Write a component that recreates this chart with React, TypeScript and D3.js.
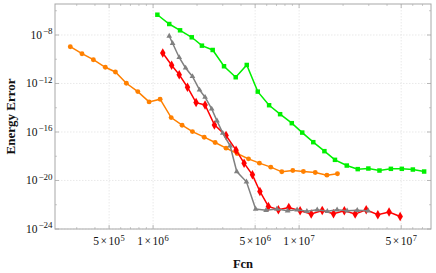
import React from "react";
import * as d3 from "d3";

const W = 436, H = 273;
const M = { left: 55, right: 431, top: 4, bottom: 229 };

// series: [Fcn, Energy Error]
const orangeFcn = [2.71e5, 3.26e5, 3.9e5, 4.71e5, 5.52e5, 6.56e5, 7.86e5, 9.39e5, 1.117e6, 1.33e6, 1.58e6, 1.86e6, 2.24e6, 2.66e6, 3.16e6, 3.76e6, 4.5e6, 5.35e6, 6.4e6, 7.61e6, 9.05e6, 1.07e7, 1.29e7, 1.55e7, 1.83e7];
const orangeErr = [1.09e-9, 2.88e-10, 9.23e-11, 2.18e-11, 8.95e-12, 1.05e-12, 2.14e-13, 3.03e-14, 5.05e-14, 1.54e-15, 3.65e-16, 1.08e-16, 3.74e-17, 1.35e-17, 4.65e-18, 1.67e-18, 6.11e-19, 2.7e-19, 1.26e-19, 5.19e-20, 6.64e-20, 5.5e-20, 4.54e-20, 2.77e-20, 3.55e-20];

const greenFcn = [1.07e6, 1.29e6, 1.53e6, 1.84e6, 2.16e6, 2.56e6, 3.06e6, 3.68e6, 4.38e6, 5.21e6, 6.23e6, 7.41e6, 8.91e6, 1.05e7, 1.25e7, 1.49e7, 1.76e7, 2.12e7, 2.52e7, 2.98e7, 3.55e7, 4.25e7, 5.05e7, 6.01e7, 7.18e7];
const greenErr = [4.7e-7, 8.05e-8, 2.44e-8, 6.47e-9, 1.32e-9, 5.81e-10, 2.64e-11, 3.28e-12, 3.38e-11, 2.14e-13, 1.62e-14, 2.94e-15, 5.33e-16, 8.95e-17, 1.45e-17, 2.63e-18, 5.06e-19, 1.71e-19, 8.67e-20, 9.71e-20, 6.64e-20, 9.16e-20, 9.16e-20, 8.04e-20, 5.5e-20];

const redFcn = [1.165e6, 1.34e6, 1.51e6, 1.72e6, 1.97e6, 2.27e6, 2.63e6, 3.16e6, 3.7e6, 4.2e6, 4.79e6, 5.39e6, 6.16e6, 7.21e6, 8.5e6, 1.016e7, 1.21e7, 1.44e7, 1.72e7, 2.04e7, 2.42e7, 2.88e7, 3.46e7, 4.13e7, 4.92e7];
const redErr = [3.29e-10, 3.19e-11, 5.37e-12, 4.92e-13, 2.65e-14, 1.71e-14, 3.86e-16, 5.07e-17, 3.18e-18, 2.7e-19, 2.94e-20, 1.24e-21, 7.19e-23, 3.85e-23, 5.94e-23, 3.18e-23, 1.7e-23, 3.37e-23, 1.8e-23, 3.18e-23, 1.7e-23, 3.85e-23, 1.49e-23, 2.48e-23, 1.08e-23];

const grayFcn = [1.29e6, 1.36e6, 1.51e6, 1.67e6, 1.86e6, 2.08e6, 2.27e6, 2.52e6, 2.74e6, 3.0e6, 3.37e6, 3.74e6, 4.36e6, 5.04e6, 5.94e6, 7.04e6, 8.34e6, 9.69e6, 1.13e7, 1.33e7, 1.56e7, 1.82e7, 2.13e7, 2.5e7, 2.97e7];
const grayErr = [8.27e-9, 2.07e-9, 1.4e-10, 1.91e-11, 3.82e-12, 2.95e-13, 7.38e-14, 8.02e-15, 8.24e-16, 8.0e-17, 7.19e-18, 5.5e-20, 7.78e-21, 4.4e-23, 3.5e-23, 4.4e-23, 3.18e-23, 3.85e-23, 2.89e-23, 3.85e-23, 2.89e-23, 3.85e-23, 3.18e-23, 3.5e-23, 3.18e-23];

const xMajor = [5e5, 1e6, 5e6, 1e7, 5e7];
const xMajorMant = ["5", "1", "5", "1", "5"];
const xMajorExp = ["5", "6", "6", "7", "7"];
const yMajorExp = [-8, -12, -16, -20, -24];
const yMinorExp = [-6, -10, -14, -18, -22];

const series = [
  { fcn: orangeFcn, err: orangeErr, color: "#ff8000", shape: d3.symbolCircle, size: 19 },
  { fcn: greenFcn, err: greenErr, color: "#00f000", shape: d3.symbolSquare, size: 20 },
  { fcn: redFcn, err: redErr, color: "#ff0000", shape: d3.symbolDiamond, size: 26 },
  { fcn: grayFcn, err: grayErr, color: "#808080", shape: d3.symbolTriangle, size: 14 },
];

export default function App() {
  const x = d3.scaleLog().domain([2.13e5, 8.0e7]).range([M.left, M.right]);
  const y = d3.scaleLog().domain([1e-24, 3.6e-6]).range([M.bottom, M.top]);

  const xMinor: number[] = [];
  for (let k = 5; k <= 7; k++) for (let m = 2; m <= 9; m++) {
    const v = m * Math.pow(10, k);
    if (v > 2.13e5 && v < 8.0e7 && !xMajor.includes(v)) xMinor.push(v);
  }

  const frame = "#a8a8a8";
  const grid = "#e4e4e4";
  const font = "'Liberation Serif', 'DejaVu Serif', serif";

  const line = d3.line<[number, number]>().x((d) => x(d[0])).y((d) => y(d[1]));

  return (
    <svg width={W} height={H} style={{ position: "absolute", left: 0, top: 0, background: "#fff" }} fontFamily={font}>
      {/* grid */}
      {xMajor.map((v, i) => (
        <line key={"gx" + i} x1={x(v)} x2={x(v)} y1={M.top} y2={M.bottom} stroke={grid} strokeWidth={0.8} strokeDasharray="1.5,1.5" />
      ))}
      {yMajorExp.map((e, i) => (
        <line key={"gy" + i} x1={M.left} x2={M.right} y1={y(Math.pow(10, e))} y2={y(Math.pow(10, e))} stroke={grid} strokeWidth={0.8} strokeDasharray="1.5,1.5" />
      ))}
      {/* frame */}
      <rect x={M.left} y={M.top} width={M.right - M.left} height={M.bottom - M.top} fill="none" stroke={frame} strokeWidth={1} />
      {/* x ticks */}
      {xMajor.map((v, i) => (
        <g key={"xt" + i} stroke={frame} strokeWidth={0.8}>
          <line x1={x(v)} x2={x(v)} y1={M.bottom} y2={M.bottom - 4} />
          <line x1={x(v)} x2={x(v)} y1={M.top} y2={M.top + 4} />
        </g>
      ))}
      {xMinor.map((v, i) => (
        <g key={"xm" + i} stroke={frame} strokeWidth={0.6}>
          <line x1={x(v)} x2={x(v)} y1={M.bottom} y2={M.bottom - 2} />
          <line x1={x(v)} x2={x(v)} y1={M.top} y2={M.top + 2} />
        </g>
      ))}
      {yMajorExp.map((e, i) => (
        <g key={"yt" + i} stroke={frame} strokeWidth={0.8}>
          <line x1={M.left} x2={M.left + 4} y1={y(Math.pow(10, e))} y2={y(Math.pow(10, e))} />
          <line x1={M.right} x2={M.right - 4} y1={y(Math.pow(10, e))} y2={y(Math.pow(10, e))} />
        </g>
      ))}
      {yMinorExp.map((e, i) => (
        <g key={"ym" + i} stroke={frame} strokeWidth={0.6}>
          <line x1={M.left} x2={M.left + 2} y1={y(Math.pow(10, e))} y2={y(Math.pow(10, e))} />
          <line x1={M.right} x2={M.right - 2} y1={y(Math.pow(10, e))} y2={y(Math.pow(10, e))} />
        </g>
      ))}
      {/* x labels */}
      {xMajor.map((v, i) => (
        <text key={"xl" + i} x={x(v)} y={245} textAnchor="middle" fontSize={11.5} fill="#111">
          {xMajorMant[i]}
          <tspan dx={1.5}>×</tspan>
          <tspan dx={1.5}>10</tspan>
          <tspan dy={-4.5} dx={0.5} fontSize={8.5}>{xMajorExp[i]}</tspan>
        </text>
      ))}
      {/* y labels */}
      {yMajorExp.map((e, i) => (
        <text key={"yl" + i} x={52.5} y={y(Math.pow(10, e)) + 3.8} textAnchor="end" fontSize={11.5} fill="#111">
          10
          <tspan dy={-4.5} dx={1} fontSize={9}>{"\u2212" + Math.abs(e)}</tspan>
        </text>
      ))}
      {/* titles */}
      <text x={(M.left + M.right) / 2} y={268} textAnchor="middle" fontSize={12.5} fontWeight="bold" fill="#111">Fcn</text>
      <text transform={`translate(14.5,${(M.top + M.bottom) / 2}) rotate(-90)`} textAnchor="middle" fontSize={13} fontWeight="bold" fill="#111">Energy Error</text>
      {/* series */}
      <g>
        {series.map((s, si) => {
          const pts = s.fcn.map((f, j) => [f, s.err[j]] as [number, number]);
          const sym = d3.symbol().type(s.shape).size(s.size)();
          return (
            <g key={"s" + si}>
              <path d={line(pts) || ""} fill="none" stroke={s.color} strokeWidth={1.5} />
              {pts.map((p, j) => (
                <path key={j} d={sym || ""} transform={`translate(${x(p[0])},${y(p[1])})`} fill={s.color} />
              ))}
            </g>
          );
        })}
      </g>
    </svg>
  );
}
